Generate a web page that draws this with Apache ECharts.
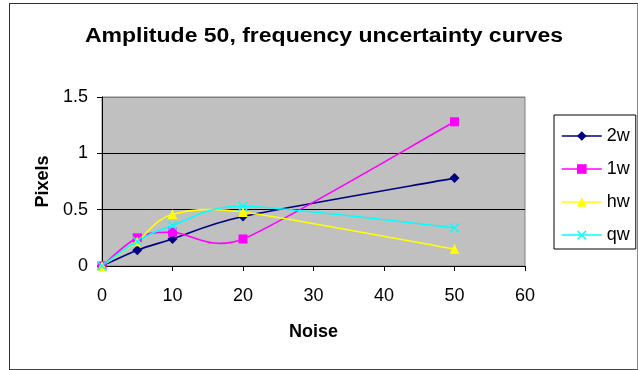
<!DOCTYPE html>
<html>
<head>
<meta charset="utf-8">
<script src="https://cdn.jsdelivr.net/npm/echarts@6/dist/echarts.min.js"></script>
<style>
  html, body { margin: 0; padding: 0; background: #fff; }
  #frame { position: absolute; left: 9px; top: 3px; width: 629px; height: 367px; border: 1px solid #333; border-right-color: #888; border-bottom-color: #444; box-sizing: border-box; }
  #chart { position: absolute; left: 0; top: 0; width: 638px; height: 370px; }
</style>
</head>
<body>
<div id="frame"></div>
<div id="chart"></div>
<script>
// Noise levels on the x axis
const noise = [0, 5, 10, 20, 50];
// Frequency uncertainty (pixels) per window width
const s2w = [0, 0.14, 0.24, 0.44, 0.78];
const s1w = [0, 0.25, 0.30, 0.24, 1.28];
const shw = [0, 0.22, 0.46, 0.48, 0.15];
const sqw = [0, 0.22, 0.36, 0.53, 0.34];
const seriesNames = ['2w', '1w', 'hw', 'qw'];
const xTicks = { min: 0, max: 60, step: 10 };
const yTicks = { min: 0, max: 1.5, step: 0.5 };
const titleText = 'Amplitude 50, frequency uncertainty curves';

const font = '"Liberation Sans", Arial, sans-serif';
const crossPath = 'path://M1,0 L5,4 L9,0 L10,1 L6,5 L10,9 L9,10 L5,6 L1,10 L0,9 L4,5 L0,1 Z';

function pairs(ys) { return noise.map((x, i) => [x, ys[i]]); }

const styles = [
  { color: '#000080', symbol: 'diamond', size: 10 },
  { color: '#ff00ff', symbol: 'rect', size: 9 },
  { color: '#ffff00', symbol: 'triangle', size: 10 },
  { color: '#00ffff', symbol: crossPath, size: 10 }
];
const values = [s2w, s1w, shw, sqw];
const lineWidth = 1.6;

// Spreadsheet-style smoothing: cubic Bezier through the points, tangent
// (next - prev) / 6, shortened where a neighbouring segment is short.
function handles(pts) {
  const dist = (a, b) => Math.hypot(a[0] - b[0], a[1] - b[1]);
  return pts.map((p, i) => {
    const prev = pts[i - 1] || p;
    const next = pts[i + 1] || p;
    const tx = next[0] - prev[0];
    const ty = next[1] - prev[1];
    const d02 = Math.hypot(tx, ty);
    let f = 1 / 6;
    if (d02 > 0) {
      if (i > 0 && i < pts.length - 1) {
        f = Math.min(f, dist(prev, p) / (2 * d02), dist(p, next) / (2 * d02));
      }
    }
    return {
      inp: [p[0] - tx * f, p[1] - ty * f],
      out: [p[0] + tx * f, p[1] + ty * f]
    };
  });
}

function curveSeries(idx) {
  return {
    type: 'custom',
    name: seriesNames[idx] + '-curve',
    silent: true,
    clip: false,
    data: [[noise[0], values[idx][0]]],
    renderItem: function (params, api) {
      const pts = noise.map((x, i) => api.coord([x, values[idx][i]]));
      const h = handles(pts);
      const children = [];
      for (let i = 0; i < pts.length - 1; i++) {
        children.push({
          type: 'bezierCurve',
          shape: {
            x1: pts[i][0], y1: pts[i][1],
            x2: pts[i + 1][0], y2: pts[i + 1][1],
            cpx1: h[i].out[0], cpy1: h[i].out[1],
            cpx2: h[i + 1].inp[0], cpy2: h[i + 1].inp[1]
          },
          style: { stroke: styles[idx].color, lineWidth: lineWidth, fill: null }
        });
      }
      return { type: 'group', children: children };
    }
  };
}

function markerSeries(idx) {
  return {
    name: seriesNames[idx],
    type: 'line',
    data: pairs(values[idx]),
    symbol: styles[idx].symbol,
    symbolSize: styles[idx].size,
    showAllSymbol: true,
    lineStyle: { color: styles[idx].color, width: lineWidth, opacity: 0 },
    itemStyle: { color: styles[idx].color, borderWidth: 0 },
    emphasis: { disabled: true }
  };
}

const series = [];
seriesNames.forEach((n, i) => { series.push(curveSeries(i)); series.push(markerSeries(i)); });

const chart = echarts.init(document.getElementById('chart'), null, { renderer: 'canvas' });
chart.setOption({
  animation: false,
  backgroundColor: 'transparent',
  textStyle: { fontFamily: font, color: '#000' },
  graphic: [{
    type: 'text',
    x: 324,
    y: 36,
    scaleX: 1.15,
    style: {
      text: titleText,
      fontFamily: font,
      fontSize: 20,
      fontWeight: 'bold',
      fill: '#000',
      align: 'center',
      verticalAlign: 'middle'
    }
  }],
  legend: {
    orient: 'vertical',
    left: 554,
    top: 115,
    padding: [12, 6, 5, 7],
    itemWidth: 40,
    itemHeight: 12,
    itemGap: 15,
    borderColor: '#000',
    borderWidth: 1,
    backgroundColor: '#fff',
    data: seriesNames,
    lineStyle: { opacity: 1, width: lineWidth },
    textStyle: { fontFamily: font, fontSize: 18, color: '#000' }
  },
  grid: {
    left: 102, top: 97, width: 423, height: 169,
    show: true,
    backgroundColor: '#c0c0c0',
    borderColor: '#808080',
    borderWidth: 1
  },
  xAxis: {
    type: 'value',
    min: xTicks.min, max: xTicks.max, interval: xTicks.step,
    name: 'Noise',
    nameLocation: 'middle',
    nameGap: 57,
    nameTextStyle: { fontFamily: font, fontSize: 18, fontWeight: 'bold', color: '#000' },
    axisLine: { show: true, lineStyle: { color: '#000', width: 1 } },
    axisTick: { show: true, inside: false, length: 5, lineStyle: { color: '#000' } },
    axisLabel: { fontFamily: font, fontSize: 18, color: '#000', margin: 21 },
    splitLine: { show: false }
  },
  yAxis: {
    type: 'value',
    min: yTicks.min, max: yTicks.max, interval: yTicks.step,
    name: 'Pixels',
    nameLocation: 'middle',
    nameGap: 49,
    nameTextStyle: { fontFamily: font, fontSize: 18, fontWeight: 'bold', color: '#000' },
    axisLine: { show: true, lineStyle: { color: '#000', width: 1 } },
    axisTick: { show: true, inside: false, length: 5, lineStyle: { color: '#000' } },
    axisLabel: { fontFamily: font, fontSize: 18, color: '#000', margin: 14 },
    splitLine: { show: true, lineStyle: { color: ['#000', '#000', '#000', '#808080'], width: 1 } }
  },
  series: series
});
</script>
</body>
</html>
